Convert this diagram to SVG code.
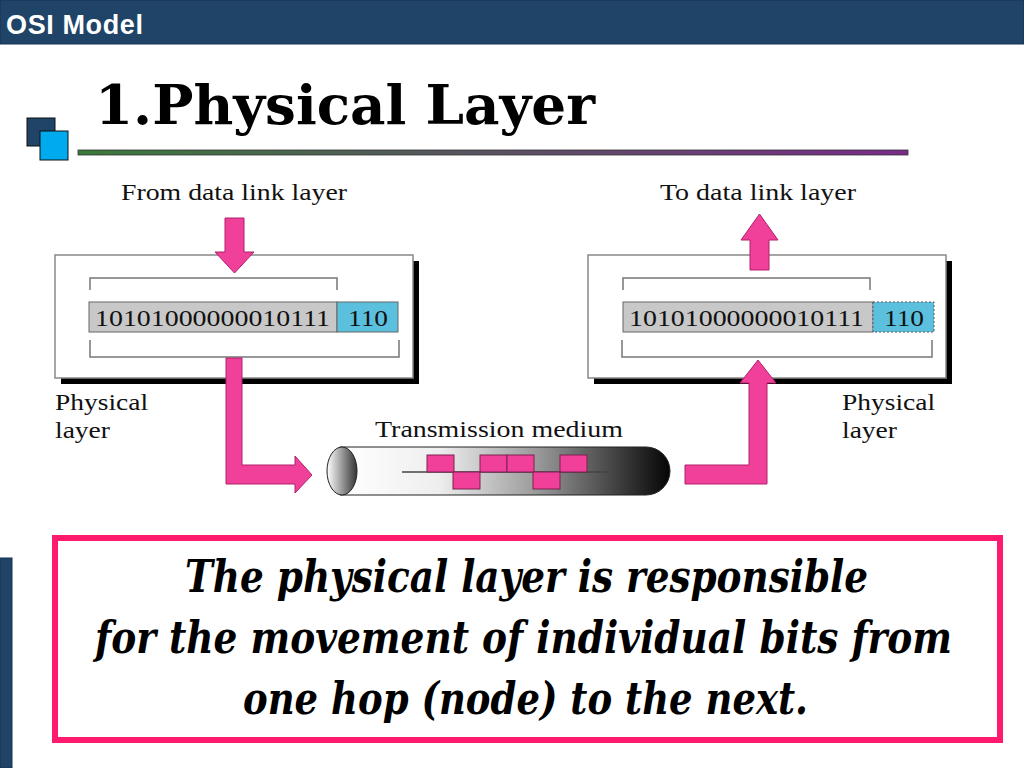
<svg xmlns="http://www.w3.org/2000/svg" width="1024" height="768" viewBox="0 0 1024 768">
<style>
.s{font-family:"Liberation Serif","Times New Roman",serif;fill:#111}
.lbl{font-size:24px}
.bits{font-size:24px}
.note{font-family:"DejaVu Serif","Liberation Serif",serif;font-weight:bold;font-style:italic;font-size:44px;fill:#000}
.arr{fill:#f0409a;stroke:#b0206a;stroke-width:1}
.br{fill:none;stroke:#777;stroke-width:1.5}
.box{fill:#fff;stroke:#888;stroke-width:1.5}
.sq{fill:#f0409a;stroke:#7a2050;stroke-width:1}
</style>
<defs>
<linearGradient id="rule" x1="0" x2="1"><stop offset="0" stop-color="#3a7a3a"/><stop offset="1" stop-color="#7a2a8a"/></linearGradient>
<linearGradient id="cyl" x1="0" x2="1"><stop offset="0" stop-color="#fff"/><stop offset="0.3" stop-color="#eee"/><stop offset="0.6" stop-color="#999"/><stop offset="1" stop-color="#050505"/></linearGradient>
<linearGradient id="cap" x1="0" x2="1"><stop offset="0" stop-color="#fff"/><stop offset="1" stop-color="#333"/></linearGradient>
</defs>
<rect width="1024" height="768" fill="#fff"/>
<g id="header">
<rect x="0" y="0" width="1024" height="44" fill="#1f4468" stroke="#163350"/>
<text x="6" y="34" font-family="'Liberation Sans',Arial,sans-serif" font-weight="bold" font-size="27" fill="#fff" textLength="137">OSI Model</text>
</g>
<g id="title">
<rect x="27" y="118" width="28" height="28" fill="#1f4468" stroke="#111"/>
<rect x="40" y="131" width="28" height="29" fill="#00aaee" stroke="#111"/>
<text x="95" y="124" font-family="'DejaVu Serif',Georgia,serif" font-weight="bold" font-size="54" fill="#000" textLength="500" lengthAdjust="spacingAndGlyphs">1.Physical Layer</text>
<rect x="78" y="150" width="830" height="5" fill="url(#rule)" stroke="#333" stroke-width="0.8"/>
</g>
<g id="sender">
<rect x="61" y="261" width="358" height="123" fill="#000"/>
<rect x="55" y="255" width="358" height="123" class="box"/>
<path class="br" d="M90 290V278H337V290"/>
<rect x="89" y="302" width="248" height="30" fill="#c8c8c8" stroke="#666"/>
<rect x="337" y="302" width="61" height="30" fill="#5bc0de" stroke="#666"/>
<text x="95" y="326" class="s bits" textLength="235" lengthAdjust="spacingAndGlyphs">10101000000010111</text>
<text x="348" y="326" class="s bits" textLength="40" lengthAdjust="spacingAndGlyphs">110</text>
<path class="br" d="M90 340V357H399V340"/>
<text x="55" y="410" class="s lbl" textLength="93" lengthAdjust="spacingAndGlyphs">Physical</text>
<text x="55" y="438" class="s lbl" textLength="55" lengthAdjust="spacingAndGlyphs">layer</text>
<text x="121" y="200" class="s lbl" textLength="226" lengthAdjust="spacingAndGlyphs">From data link layer</text>
</g>
<g id="receiver">
<rect x="594" y="261" width="358" height="123" fill="#000"/>
<rect x="588" y="255" width="358" height="123" class="box"/>
<path class="br" d="M623 290V278H870V290"/>
<rect x="623" y="302" width="250" height="30" fill="#c8c8c8" stroke="#666"/>
<rect x="873" y="302" width="61" height="30" fill="#5bc0de" stroke="#555" stroke-dasharray="2,2"/>
<text x="629" y="326" class="s bits" textLength="235" lengthAdjust="spacingAndGlyphs">10101000000010111</text>
<text x="884" y="326" class="s bits" textLength="40" lengthAdjust="spacingAndGlyphs">110</text>
<path class="br" d="M622 340V357H932V340"/>
<text x="842" y="410" class="s lbl" textLength="93" lengthAdjust="spacingAndGlyphs">Physical</text>
<text x="842" y="438" class="s lbl" textLength="55" lengthAdjust="spacingAndGlyphs">layer</text>
<text x="660" y="200" class="s lbl" textLength="196" lengthAdjust="spacingAndGlyphs">To data link layer</text>
</g>
<g id="medium">
<text x="375" y="437" class="s lbl" textLength="248" lengthAdjust="spacingAndGlyphs">Transmission medium</text>
<path d="M340 447H646A24 24 0 0 1 646 495H340Z" fill="url(#cyl)" stroke="#222"/>
<ellipse cx="342" cy="471" rx="15" ry="24" fill="url(#cap)" stroke="#222"/>
<line x1="402" y1="472" x2="612" y2="472" stroke="#444" stroke-width="1.5"/>
<rect class="sq" x="427" y="455" width="27" height="17"/>
<rect class="sq" x="480" y="455" width="27" height="17"/>
<rect class="sq" x="507" y="455" width="27" height="17"/>
<rect class="sq" x="560" y="455" width="27" height="17"/>
<rect class="sq" x="453" y="472" width="27" height="17"/>
<rect class="sq" x="533" y="472" width="27" height="17"/>
</g>
<g id="connectors">
<path class="arr" d="M225 218H244V252H254L234.5 273L215 252H225Z"/>
<path class="arr" d="M226 358H242V465H295V456L312 475L295 493V484H226Z"/>
<path class="arr" d="M685 465H749V383H740L758 360L776 383H767V484H685Z"/>
<path class="arr" d="M750 270V240H741L759.5 214L778 240H769V270Z"/>
</g>
<g id="note">
<rect x="0" y="558" width="12" height="210" fill="#1f4468" stroke="#163350"/>
<rect x="55" y="538" width="945" height="202" fill="none" stroke="#ff1a6e" stroke-width="6"/>
<text x="185" y="592" class="note" textLength="683" lengthAdjust="spacingAndGlyphs">The physical layer is responsible</text>
<text x="95" y="653" class="note" textLength="857" lengthAdjust="spacingAndGlyphs">for the movement of individual bits from</text>
<text x="243" y="714" class="note" textLength="565" lengthAdjust="spacingAndGlyphs">one hop (node) to the next.</text>
</g>
</svg>
